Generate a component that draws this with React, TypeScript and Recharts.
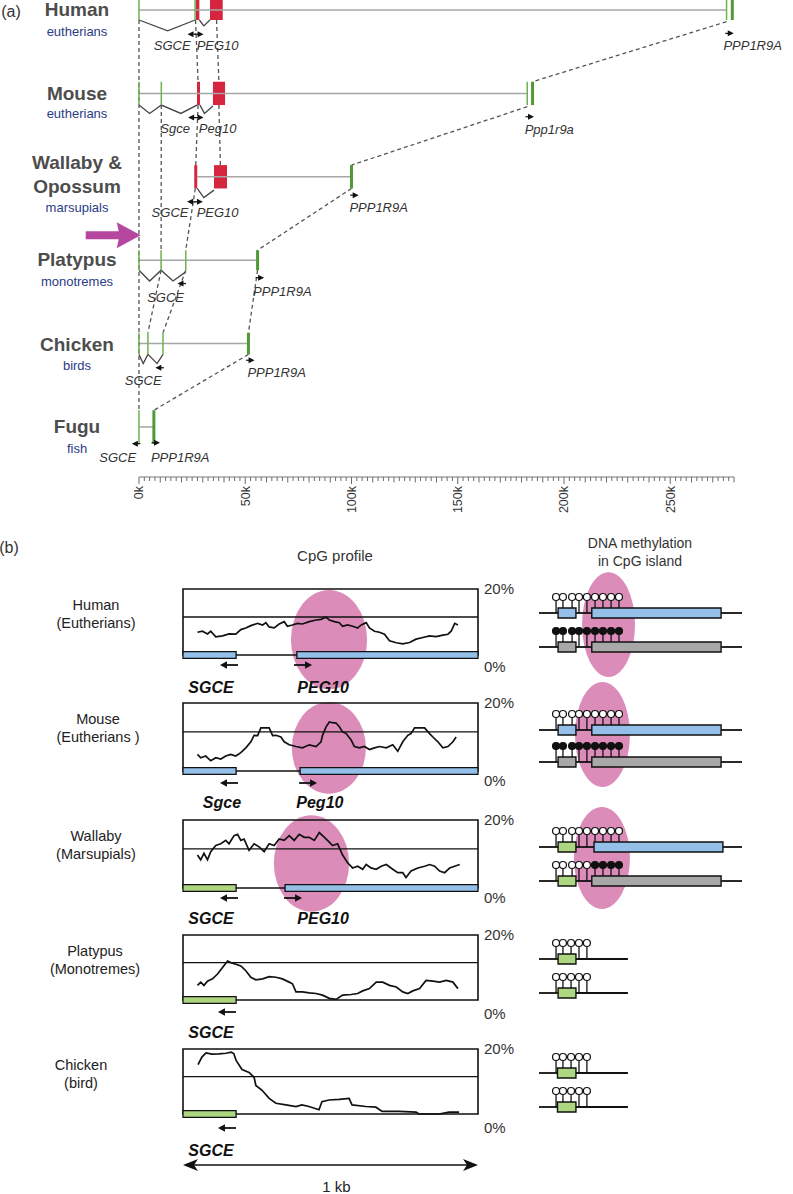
import React from 'react';
import {
  ComposedChart, LineChart, Line, Scatter, XAxis, YAxis,
  ReferenceLine, ReferenceArea, ReferenceDot,
} from 'recharts';

const FONT = '"Liberation Sans", Arial, Helvetica, sans-serif';

// ---------------- (a) locus structure, kb along x, rows 0..5 top to bottom
const speciesA = ['Human', 'Mouse', 'Wallaby &\nOpossum', 'Platypus', 'Chicken', 'Fugu'];
const cladesA = ['eutherians', 'eutherians', 'marsupials', 'monotremes', 'birds', 'fish'];
const majorTicksK = [0, 50, 100, 150, 200, 250];
const exonHalf = [0.12, 0.14, 0.14, 0.12, 0.13, 0.2];
const AXIS_ROW = 5.6;
const ROW_PX = 83.4;

// [row, from kb, to kb]
const backbones = [[0, 0, 276.5], [1, 0, 182.7], [2, 27.4, 100], [3, 0, 55.8], [4, 0, 51.5], [5, 0, 7]];
// [row, kb]
const thinExons = [[0, 0], [0, 26.4], [0, 276.5], [1, 0], [1, 10.5], [1, 182.7], [3, 0], [3, 10.4], [3, 22], [4, 0], [4, 4.2], [4, 11.3], [5, 0]];
const thickExons = [[0, 279.2], [1, 185.2], [2, 100], [3, 55.8], [4, 51.5], [5, 7]];
// [row, from kb, to kb]
const redExons = [[0, 26.8, 28.4], [0, 33.4, 39.4], [1, 27.3, 28.7], [1, 34.8, 40.5], [2, 26, 27.4], [2, 35.3, 41.4]];
// splice connectors: row, then [kb, drop below row]
const introns: [number, number[][]][] = [
  [0, [[0, 0.12], [13.5, 0.25], [26.4, 0.12]]],
  [0, [[28.4, 0.12], [30.5, 0.19], [33.4, 0.12]]],
  [1, [[0, 0.14], [5, 0.24], [10.5, 0.14], [19.7, 0.24], [27.3, 0.14]]],
  [1, [[28.7, 0.14], [30.8, 0.24], [34.8, 0.15]]],
  [2, [[27.4, 0.14], [30.5, 0.25], [35.3, 0.16]]],
  [3, [[0, 0.12], [5, 0.25], [10.4, 0.12], [16, 0.25], [22, 0.14]]],
  [4, [[0, 0.13], [2, 0.24], [4.2, 0.13], [8.5, 0.24], [11.3, 0.13]]],
];
// dashed orthology links [kb, row] -> [kb, row]
const links = [
  [[0, 0.12], [0, 4.8]],
  [[26.6, 0.12], [27.8, 0.86]],
  [[27.8, 1.14], [26.7, 1.86]],
  [[26.5, 2.14], [22, 2.88]],
  [[10.5, 1.14], [10.4, 2.88]],
  [[10.4, 3.12], [4.2, 3.87]],
  [[22, 3.12], [11.3, 3.87]],
  [[36.5, 0.12], [37.6, 0.86]],
  [[37.6, 1.14], [38.3, 1.86]],
  [[276.5, 0.14], [185.2, 0.86]],
  [[182.7, 1.16], [100, 1.86]],
  [[100, 2.14], [55.8, 2.88]],
  [[55.8, 3.12], [51.5, 3.87]],
  [[51.5, 4.13], [7, 4.8]],
];
// [row, kb, offset, dir]
const strandArrowsA: [number, number, number, number][] = [
  [0, 24.7, 0.29, -1], [0, 28.5, 0.29, 1], [0, 278, 0.28, 1],
  [1, 25, 0.29, -1], [1, 28.5, 0.29, 1], [1, 184, 0.28, 1],
  [2, 24.5, 0.3, -1], [2, 28.2, 0.3, 1], [2, 101.5, 0.22, 1],
  [3, 20, 0.28, -1], [3, 57, 0.21, 1],
  [4, 9.6, 0.29, -1], [4, 52.5, 0.2, 1],
  [5, -1.5, 0.2, -1], [5, 8, 0.19, 1],
];
// [row, kb, offset, name, anchor]
const geneNamesA: [number, number, number, string, string][] = [
  [0, 15.6, 0.43, 'SGCE', 'middle'], [0, 37, 0.43, 'PEG10', 'middle'], [0, 275, 0.43, 'PPP1R9A', 'start'],
  [1, 17, 0.42, 'Sgce', 'middle'], [1, 37, 0.42, 'Peg10', 'middle'], [1, 181.5, 0.43, 'Ppp1r9a', 'start'],
  [2, 14.6, 0.43, 'SGCE', 'middle'], [2, 37, 0.43, 'PEG10', 'middle'], [2, 99, 0.37, 'PPP1R9A', 'start'],
  [3, 12.5, 0.45, 'SGCE', 'middle'], [3, 53.7, 0.38, 'PPP1R9A', 'start'],
  [4, 2, 0.44, 'SGCE', 'middle'], [4, 51, 0.35, 'PPP1R9A', 'start'],
  [5, -10, 0.36, 'SGCE', 'middle'], [5, 5.6, 0.36, 'PPP1R9A', 'start'],
];

// ruler graduation every 2.5 kb
const rulerTicks: number[] = [];
for (let k = 0; k <= 280; k += 2.5) rulerTicks.push(k);

// ---------------- (b) CpG profiles: [bp, CpG %]
const humanCpG = [[49, 6.9], [66, 7.2], [83, 6.4], [94, 7.2], [111, 5.5], [134, 5.8], [156, 6.4], [179, 6.3], [196, 7.7], [213, 8.2], [230, 8.9], [253, 9.6], [270, 9.1], [281, 9.8], [292, 8.5], [309, 8.2], [326, 9.4], [343, 10.1], [354, 8.7], [371, 9.1], [388, 9.6], [405, 9.4], [428, 10.1], [451, 10.6], [468, 10.8], [485, 11.5], [496, 10.6], [513, 10.1], [530, 9.8], [541, 8.7], [558, 9.1], [575, 8.7], [592, 8.2], [604, 9.1], [621, 9.8], [632, 8.2], [649, 7.2], [666, 6.9], [683, 6.3], [700, 4.3], [723, 3.7], [745, 3.4], [768, 3.8], [790, 4.8], [813, 5.3], [836, 5.8], [858, 5.6], [881, 6.0], [898, 6.3], [909, 7.2], [921, 9.6], [932, 9.1]];
const mouseCpG = [[49, 4.9], [60, 3.9], [77, 4.4], [94, 3.0], [111, 3.9], [128, 3.5], [145, 4.4], [162, 4.9], [179, 4.4], [196, 5.4], [213, 6.8], [230, 8.6], [241, 10.5], [253, 10.4], [264, 12.7], [292, 12.7], [304, 10.4], [315, 10.5], [332, 10], [343, 8.6], [360, 7.7], [383, 7.2], [405, 6.8], [428, 7.7], [451, 7.2], [468, 8.6], [473, 10.5], [485, 13], [496, 14.4], [507, 14.2], [519, 14.1], [530, 13], [541, 11.5], [553, 11], [570, 9.1], [581, 7.2], [598, 6.8], [615, 7.2], [632, 6.3], [649, 6.8], [666, 7.2], [689, 6.8], [711, 7.7], [728, 5.8], [745, 8.6], [762, 10.5], [773, 11], [785, 12.7], [819, 12.7], [836, 11], [847, 10], [864, 8.6], [881, 6.8], [898, 7.2], [915, 8.6], [926, 10]];
const wallabyCpG = [[49, 9.7], [60, 8.3], [71, 10.2], [83, 8.3], [94, 10.7], [111, 12.5], [128, 13], [145, 14], [156, 13], [173, 15.4], [185, 15.8], [196, 14], [207, 14.4], [224, 11.1], [241, 13], [258, 12.1], [275, 10.7], [292, 13], [309, 12.5], [326, 14.4], [343, 14], [360, 15.4], [377, 14], [394, 15.8], [411, 14.9], [428, 14.9], [445, 14], [462, 16.3], [473, 15.4], [490, 14], [507, 12.5], [524, 13], [541, 9.7], [558, 7.4], [575, 5.9], [592, 6.4], [609, 5.5], [621, 6.9], [637, 5.9], [655, 5.5], [672, 6.4], [689, 6.9], [711, 5.5], [728, 4.5], [745, 4.5], [756, 3.1], [773, 5.0], [796, 5.9], [819, 6.4], [836, 6.9], [853, 6.4], [870, 5.0], [887, 4.5], [904, 5.9], [921, 6.4], [938, 6.9]];
const platypusCpG = [[49, 4.5], [60, 5.5], [71, 4.5], [83, 5.8], [100, 6.5], [117, 8], [134, 10], [151, 12], [162, 11.5], [179, 11], [196, 10.5], [213, 9], [230, 7], [247, 6.2], [270, 6.5], [292, 7.2], [315, 7], [337, 6.5], [360, 5.5], [371, 5], [383, 2.5], [405, 2.5], [428, 2.2], [451, 2], [473, 1.5], [496, 0.5], [519, 0.2], [541, 1.5], [570, 1.7], [592, 2], [609, 2.8], [632, 3.5], [655, 5.5], [677, 5.5], [700, 4.5], [723, 4], [745, 2.5], [762, 2], [779, 2.8], [802, 3.5], [824, 6], [847, 5.8], [870, 5.5], [892, 6], [915, 5.5], [932, 3.5]];
const chickenCpG = [[51, 15.2], [64, 17.5], [78, 18.8], [98, 18.4], [122, 18.5], [146, 18.7], [163, 19.0], [172, 18.6], [180, 16.5], [200, 13.7], [224, 12.8], [241, 11.3], [247, 8.8], [268, 7.3], [292, 4.8], [315, 3.3], [349, 2.8], [383, 2.3], [403, 2.8], [427, 2.3], [461, 1.3], [471, 3.8], [495, 4.3], [529, 4.5], [563, 4.8], [573, 2.8], [620, 2.3], [654, 2.1], [675, 0.8], [732, 0.8], [790, 0.6], [800, 0], [868, 0], [902, 0.6], [936, 0.6]];

const BLUE = '#93bfe9';
const GREEN = '#acd67f';
const GRAY = '#a8a8a8';
const PINK = '#dc8cb9';

type Gene = { from: number; to: number; color: string };
type GeneLabel = { text: string; x: number; arrowX: number; dir: number };

const cpgRows = [
  {
    name: ['Human', '(Eutherians)'], labelX: 96, top: 589, h: 66, data: humanCpG,
    genes: [{ from: 0, to: 180, color: BLUE }, { from: 386, to: 1000, color: BLUE }] as Gene[],
    ellipse: [366, 624, 19.7, -10.4], arrowDy: 10, labelDy: 32, zeroDy: 12, scale: false,
    labels: [{ text: 'SGCE', x: 95, arrowX: 156, dir: -1 }, { text: 'PEG10', x: 475, arrowX: 407, dir: 1 }] as GeneLabel[],
  },
  {
    name: ['Mouse', '(Eutherians )'], labelX: 98, top: 703, h: 68, data: mouseCpG,
    genes: [{ from: 0, to: 180, color: BLUE }, { from: 397, to: 1000, color: BLUE }] as Gene[],
    ellipse: [369, 620, 20.3, -6.7], arrowDy: 12, labelDy: 31, zeroDy: 10, scale: false,
    labels: [{ text: 'Sgce', x: 132, arrowX: 156, dir: -1 }, { text: 'Peg10', x: 464, arrowX: 424, dir: 1 }] as GeneLabel[],
  },
  {
    name: ['Wallaby', '(Marsupials)'], labelX: 96, top: 820, h: 68, data: wallabyCpG,
    genes: [{ from: 0, to: 180, color: GREEN }, { from: 346, to: 1000, color: BLUE }] as Gene[],
    ellipse: [308, 563, 21.4, -7], arrowDy: 10, labelDy: 30, zeroDy: 10, scale: false,
    labels: [{ text: 'SGCE', x: 95, arrowX: 156, dir: -1 }, { text: 'PEG10', x: 475, arrowX: 373, dir: 1 }] as GeneLabel[],
  },
  {
    name: ['Platypus', '(Monotremes)'], labelX: 95, top: 935, h: 65, data: platypusCpG,
    genes: [{ from: 0, to: 180, color: GREEN }] as Gene[],
    ellipse: null, arrowDy: 12, labelDy: 32, zeroDy: 14, scale: false,
    labels: [{ text: 'SGCE', x: 95, arrowX: 149, dir: -1 }] as GeneLabel[],
  },
  {
    name: ['Chicken', '(bird)'], labelX: 81, top: 1049, h: 65, data: chickenCpG,
    genes: [{ from: 0, to: 180, color: GREEN }] as Gene[],
    ellipse: null, arrowDy: 14, labelDy: 36, zeroDy: 14, scale: true,
    labels: [{ text: 'SGCE', x: 95, arrowX: 149, dir: -1 }] as GeneLabel[],
  },
];

// ---------------- (b) methylation of CpG sites (relative positions 0..100)
const sites9 = [8.4, 11.8, 16.3, 19.7, 23.6, 27.6, 31.5, 35.5, 39.4];
const sites5 = [8.4, 11.8, 15.8, 19.7, 23.6];
const allOpen9 = [0, 0, 0, 0, 0, 0, 0, 0, 0];
const allMeth9 = [1, 1, 1, 1, 1, 1, 1, 1, 1];
const wallabyLower = [0, 0, 0, 0, 0, 1, 1, 1, 1];
const allOpen5 = [0, 0, 0, 0, 0];

const methRows = [
  { line: 613, gap: 34, sites: sites9, upper: allOpen9, lower: allMeth9, small: [9.4, 18.2], smallC: [BLUE, GRAY], big: [[26, 89.7], [26, 89.7]], end: 100, ellipse: [21.2, 47.3, 2.2, -0.88] },
  { line: 730, gap: 32, sites: sites9, upper: allOpen9, lower: allMeth9, small: [9.4, 18.2], smallC: [BLUE, GRAY], big: [[26, 89.7], [26, 89.7]], end: 100, ellipse: [17.7, 44.8, 2.5, -0.78] },
  { line: 847, gap: 34, sites: sites9, upper: allOpen9, lower: wallabyLower, small: [9.4, 18.2], smallC: [GREEN, GREEN], big: [[27.1, 90.6], [26, 89.7]], end: 100, ellipse: [17.2, 44.8, 2.18, -0.82] },
  { line: 959, gap: 34, sites: sites5, upper: allOpen5, lower: allOpen5, small: [9.4, 18.2], smallC: [GREEN, GREEN], big: null, end: 43.8, ellipse: null },
  { line: 1073, gap: 34, sites: sites5, upper: allOpen5, lower: allOpen5, small: [9.1, 18.2], smallC: [GREEN, GREEN], big: null, end: 43.8, ellipse: null },
];

const ellipseShape = (p: any) => (
  <ellipse cx={p.x + p.width / 2} cy={p.y + p.height / 2} rx={p.width / 2} ry={p.height / 2} fill={PINK} stroke="none" />
);

function RulerLabel(p: any) {
  const v = p.payload.value;
  const ty = p.y + 9;
  return (
    <text x={p.x} y={ty} dy="0.35em" textAnchor="end" transform={`rotate(-90 ${p.x} ${ty})`}
      fontSize={12.5} fill="#333" fontFamily={FONT}>{v}k</text>
  );
}

function PanelA() {
  return (
    <ComposedChart width={793} height={522} margin={{ top: 0, right: 59, bottom: 0, left: 139 }}>
      <XAxis type="number" dataKey="x" domain={[0, 280]} ticks={majorTicksK} interval={0} height={45}
        tickSize={0} tickMargin={0} stroke="#777" tick={RulerLabel} />
      <YAxis type="number" dataKey="y" domain={[-0.12, AXIS_ROW]} reversed hide />
      {rulerTicks.map((k) => {
        const len = majorTicksK.includes(k) ? 7 : k % 10 === 0 ? 5.5 : 4;
        return (
          <ReferenceLine key={'rt' + k} segment={[{ x: k, y: AXIS_ROW }, { x: k, y: AXIS_ROW + len / ROW_PX }]}
            stroke="#6a6a6a" strokeWidth={1} ifOverflow="visible" />
        );
      })}
      {redExons.map(([r, a, b], i) => (
        <ReferenceArea key={'re' + i} x1={a} x2={b} y1={r - exonHalf[r]} y2={r + exonHalf[r]}
          fill="#d6253f" fillOpacity={1} stroke="none" ifOverflow="visible" />
      ))}
      {backbones.map(([r, a, b], i) => (
        <Line key={'bb' + i} data={[{ x: a, y: r }, { x: b, y: r }]} dataKey="y" stroke="#a6a6a6"
          strokeWidth={1.5} dot={false} isAnimationActive={false} />
      ))}
      {introns.map(([r, pts], i) => (
        <Line key={'in' + i} data={pts.map(([x, d]) => ({ x, y: r + d }))} dataKey="y" stroke="#444"
          strokeWidth={1.3} dot={false} isAnimationActive={false} />
      ))}
      {links.map(([p1, p2], i) => (
        <Line key={'ln' + i} data={[{ x: p1[0], y: p1[1] }, { x: p2[0], y: p2[1] }]} dataKey="y" stroke="#555"
          strokeWidth={1.3} strokeDasharray="4 3" dot={false} isAnimationActive={false} />
      ))}
      {thinExons.map(([r, x], i) => (
        <ReferenceLine key={'te' + i} segment={[{ x, y: r - exonHalf[r] }, { x, y: r + exonHalf[r] }]}
          stroke="#6fb04f" strokeWidth={1.5} ifOverflow="visible" />
      ))}
      {thickExons.map(([r, x], i) => (
        <ReferenceLine key={'tk' + i} segment={[{ x, y: r - exonHalf[r] }, { x, y: r + exonHalf[r] }]}
          stroke="#4f9a36" strokeWidth={3} ifOverflow="visible" />
      ))}
      {strandArrowsA.map(([r, x, off, dir], i) => (
        <ReferenceDot key={'sa' + i} x={x} y={r + off} r={0} ifOverflow="visible"
          shape={(p: any) => (
            <g>
              <path d={`M${p.cx + dir * 4},${p.cy} L${p.cx - dir * 2},${p.cy - 3} L${p.cx - dir * 2},${p.cy + 3} Z`} fill="#111" />
              <line x1={p.cx} x2={p.cx - dir * 4.5} y1={p.cy} y2={p.cy} stroke="#111" strokeWidth={1.2} />
            </g>
          )} />
      ))}
      {geneNamesA.map(([r, x, off, t, anchor], i) => (
        <ReferenceDot key={'gn' + i} x={x} y={r + off} r={0} ifOverflow="visible"
          shape={(p: any) => (
            <text x={p.cx} y={p.cy} dy="0.35em" textAnchor={anchor} fontStyle="italic" fontSize={13}
              fill="#333" fontFamily={FONT}>{t}</text>
          )} />
      ))}
      <ReferenceDot x={0.8} y={2.7} r={0} ifOverflow="visible"
        shape={(p: any) => (
          <path d={`M${p.cx - 55},${p.cy - 4} L${p.cx - 22},${p.cy - 4} L${p.cx - 24},${p.cy - 13} L${p.cx},${p.cy} L${p.cx - 24},${p.cy + 13} L${p.cx - 22},${p.cy + 4} L${p.cx - 55},${p.cy + 4} Z`}
            fill="#b5489e" />
        )} />
    </ComposedChart>
  );
}

function CpgPanel({ row }: { row: typeof cpgRows[number] }) {
  const extra = row.scale ? 82 : 45;
  const data = row.data.map(([x, v]) => ({ x, v }));
  const pxPerPct = row.h / 20;
  const barHalf = 3.3 / pxPerPct;
  return (
    <div style={{ position: 'absolute', left: 0, top: row.top - 12 }}>
      <LineChart width={540} height={12 + row.h + extra} data={data}
        margin={{ top: 12, right: 22, bottom: extra, left: 183 }}>
        <XAxis type="number" dataKey="x" domain={[0, 1000]} hide />
        <YAxis orientation="right" type="number" domain={[0, 20]} ticks={[0, 20]} width={40}
          axisLine={false} tickLine={false} tickSize={0} tickMargin={0}
          tick={(p: any) => (
            <text x={p.x + 6} y={p.y + (p.payload.value === 0 ? row.zeroDy : 0)} dy="0.35em"
              fontSize={15} fill="#333" fontFamily={FONT}>{p.payload.value}%</text>
          )} />
        {row.ellipse && (
          <ReferenceArea x1={row.ellipse[0]} x2={row.ellipse[1]} y1={row.ellipse[2]} y2={row.ellipse[3]}
            ifOverflow="visible" shape={ellipseShape} />
        )}
        <ReferenceArea x1={0} x2={1000} y1={0} y2={20} fill="none" fillOpacity={0} stroke="#111"
          strokeWidth={1.6} ifOverflow="visible" />
        <ReferenceLine y={11.5} stroke="#111" strokeWidth={1.4} ifOverflow="visible" />
        <Line dataKey="v" stroke="#111" strokeWidth={1.7} dot={false} isAnimationActive={false} />
        {row.genes.map((g, i) => (
          <ReferenceArea key={'g' + i} x1={g.from} x2={g.to} y1={-barHalf} y2={barHalf} fill={g.color}
            fillOpacity={1} stroke="#111" strokeWidth={1.3} ifOverflow="visible" />
        ))}
        {row.labels.map((l, i) => (
          <ReferenceDot key={'a' + i} x={l.arrowX} y={0} r={0} ifOverflow="visible"
            shape={(p: any) => {
              const y = p.cy + row.arrowDy;
              const tip = p.cx + l.dir * 9;
              return (
                <g>
                  <line x1={p.cx - l.dir * 9} x2={tip - l.dir * 3} y1={y} y2={y} stroke="#111" strokeWidth={1.8} />
                  <path d={`M${tip},${y} L${tip - l.dir * 7},${y - 3.8} L${tip - l.dir * 7},${y + 3.8} Z`} fill="#111" />
                </g>
              );
            }} />
        ))}
        {row.labels.map((l, i) => (
          <ReferenceDot key={'l' + i} x={l.x} y={0} r={0} ifOverflow="visible"
            shape={(p: any) => (
              <text x={p.cx} y={p.cy + row.labelDy} dy="0.35em" textAnchor="middle" fontWeight="bold"
                fontStyle="italic" fontSize={16} fill="#111" fontFamily={FONT}>{l.text}</text>
            )} />
        ))}
        {row.scale && (
          <ReferenceLine segment={[{ x: 8, y: -51 / pxPerPct }, { x: 992, y: -51 / pxPerPct }]}
            stroke="#111" strokeWidth={1.6} ifOverflow="visible" />
        )}
        {row.scale && [0, 1000].map((x, i) => (
          <ReferenceDot key={'s' + i} x={x} y={-51 / pxPerPct} r={0} ifOverflow="visible"
            shape={(p: any) => {
              const d = i === 0 ? 1 : -1;
              return <path d={`M${p.cx},${p.cy} L${p.cx + d * 15},${p.cy - 6} L${p.cx + d * 11},${p.cy} L${p.cx + d * 15},${p.cy + 6} Z`} fill="#111" />;
            }} />
        ))}
        {row.scale && (
          <ReferenceDot x={520} y={-73 / pxPerPct} r={0} ifOverflow="visible"
            shape={(p: any) => (
              <text x={p.cx} y={p.cy} dy="0.35em" textAnchor="middle" fontSize={15} fill="#222" fontFamily={FONT}>1 kb</text>
            )} />
        )}
      </LineChart>
    </div>
  );
}

function strandSegments(end: number, boxes: number[][]) {
  const segs: number[][] = [];
  let cur = 0;
  boxes.forEach(([a, b]) => { segs.push([cur, a]); cur = b; });
  segs.push([cur, end]);
  return segs;
}

function MethPanel({ row }: { row: typeof methRows[number] }) {
  const boxHalf = 5 / row.gap;
  const strands = [
    { y: 1, boxes: row.big ? [row.small, row.big[0]] : [row.small], colors: [row.smallC[0], BLUE], state: row.upper },
    { y: 0, boxes: row.big ? [row.small, row.big[1]] : [row.small], colors: [row.smallC[1], GRAY], state: row.lower },
  ];
  return (
    <div style={{ position: 'absolute', left: 500, top: row.line - 52 }}>
      <ComposedChart width={260} height={52 + row.gap + 45} margin={{ top: 52, right: 18, bottom: 45, left: 39 }}>
        <XAxis type="number" dataKey="x" domain={[0, 100]} hide />
        <YAxis type="number" dataKey="y" domain={[0, 1]} hide />
        {row.ellipse && (
          <ReferenceArea x1={row.ellipse[0]} x2={row.ellipse[1]} y1={row.ellipse[2]} y2={row.ellipse[3]}
            ifOverflow="visible" shape={ellipseShape} />
        )}
        {strands.map((s, si) => strandSegments(row.end, s.boxes).map(([a, b], i) => (
          <Line key={`st${si}-${i}`} data={[{ x: a, y: s.y }, { x: b, y: s.y }]} dataKey="y" stroke="#111"
            strokeWidth={1.8} dot={false} isAnimationActive={false} />
        )))}
        {strands.map((s, si) => s.boxes.map(([a, b], i) => (
          <ReferenceArea key={`bx${si}-${i}`} x1={a} x2={b} y1={s.y - boxHalf} y2={s.y + boxHalf}
            fill={s.colors[i]} fillOpacity={1} stroke="#111" strokeWidth={1.4} ifOverflow="visible" />
        )))}
        {strands.map((s, si) => (
          <Scatter key={'lp' + si} data={row.sites.map((x, i) => ({ x, y: s.y, m: s.state[i] }))} dataKey="y"
            isAnimationActive={false}
            shape={(p: any) => {
              const onBox = s.boxes.some(([a, b]) => p.payload.x >= a && p.payload.x <= b);
              const cy = p.cy - 16;
              return (
                <g>
                  <line x1={p.cx} x2={p.cx} y1={cy + 3.4} y2={p.cy - (onBox ? 5 : 0)} stroke="#111" strokeWidth={1.3} />
                  <circle cx={p.cx} cy={cy} r={3.5} fill={p.payload.m ? '#111' : '#fff'} stroke="#111" strokeWidth={1.2} />
                </g>
              );
            }} />
        ))}
      </ComposedChart>
    </div>
  );
}

const labelLayoutA = [[10, 31], [94, 113], [175, 207], [260, 281], [345, 365], [427, 448]];

export default function App() {
  const abs = (x: number, y: number, extra: React.CSSProperties = {}): React.CSSProperties => ({
    position: 'absolute', left: x, top: y, transform: 'translate(-50%, -50%)', whiteSpace: 'pre',
    fontFamily: FONT, textAlign: 'center', ...extra,
  });
  return (
    <div style={{ position: 'absolute', left: 0, top: 0, width: 793, height: 1194, background: '#fff', overflow: 'hidden' }}>
      <div style={{ position: 'absolute', left: 0, top: 0 }}>
        <PanelA />
      </div>
      <div style={abs(11, 12, { fontSize: 16, color: '#333' })}>(a)</div>
      {speciesA.map((s, i) => (
        <React.Fragment key={s}>
          <div style={abs(77, labelLayoutA[i][0], { fontSize: 19, fontWeight: 'bold', color: '#4d4d4d', lineHeight: '24px' })}>{s}</div>
          <div style={abs(77, labelLayoutA[i][1], { fontSize: 13, color: '#2b3b85' })}>{cladesA[i]}</div>
        </React.Fragment>
      ))}

      <div style={abs(9, 548, { fontSize: 16, color: '#333' })}>(b)</div>
      <div style={abs(335, 555, { fontSize: 15, color: '#333' })}>CpG profile</div>
      <div style={abs(640, 552, { fontSize: 14, color: '#333', lineHeight: '18px' })}>{'DNA methylation\nin CpG island'}</div>

      {methRows.map((r, i) => <MethPanel key={'m' + i} row={r} />)}
      {cpgRows.map((r) => <CpgPanel key={r.name[0]} row={r} />)}
      {cpgRows.map((r) => (
        <div key={'n' + r.name[0]} style={abs(r.labelX, r.top + 25, { fontSize: 14.5, color: '#222', lineHeight: '18px' })}>
          {r.name[0] + '\n' + r.name[1]}
        </div>
      ))}
    </div>
  );
}
